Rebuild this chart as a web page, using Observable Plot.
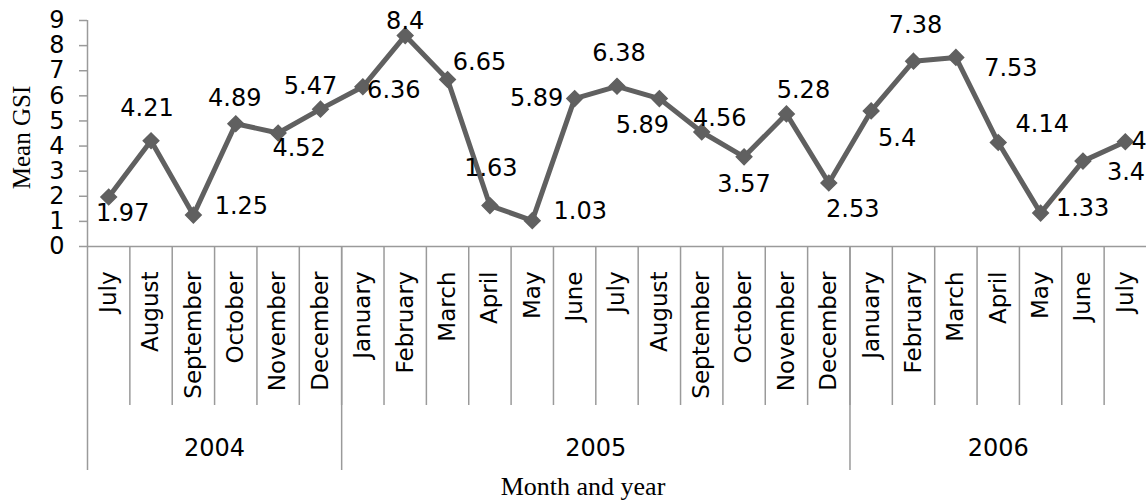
<!DOCTYPE html>
<html>
<head>
<meta charset="utf-8">
<script src="https://cdn.jsdelivr.net/npm/d3@7"></script>
<script src="https://cdn.jsdelivr.net/npm/@observablehq/plot@0.6"></script>
<style>
  html, body { margin: 0; padding: 0; background: white; overflow: hidden; }
  svg { overflow: hidden; display: block; }
</style>
</head>
<body>
<div id="chart"></div>
<script>
// ---- data ----
const months = ["July","August","September","October","November","December",
  "January","February","March","April","May","June","July","August","September","October","November","December",
  "January","February","March","April","May","June","July"];
const years = ["2004","2005","2006"];
const yearCounts = [6, 12, 7];
const gsi = [1.97, 4.21, 1.25, 4.89, 4.52, 5.47, 6.36, 8.4, 6.65, 1.63, 1.03, 5.89,
  6.38, 5.89, 4.56, 3.57, 5.28, 2.53, 5.4, 7.38, 7.53, 4.14, 1.33, 3.4, 4.17];
const yTicks = [0,1,2,3,4,5,6,7,8,9];
// label placement (pixel offsets from each point)
const labelOffset = [[14,16],[-4,-32],[48,-9],[-1,-25],[21,15],[-10,-23],[31,4],[0,-14],[32,-17],[1,-37],
  [48,-9],[-38,0],[2,-33],[-17,27],[18,-14],[0,27],[17,-24],[24,26],[26,27],[2,-36],[55,11],[44,-18],
  [42,-5],[43,11],[33,0]];

// ---- derived tables ----
const points = gsi.map((v, i) => ({i: i + 0.5, v, month: months[i], dx: labelOffset[i][0], dy: labelOffset[i][1]}));
const monthBounds = d3.range(1, months.length);
const yearStarts = d3.cumsum([0, ...yearCounts]).slice(0, years.length);
const yearTable = years.map((y, k) => ({y, c: yearStarts[k] + yearCounts[k] / 2}));

const axisGray = "#9a9a9a";
const lineGray = "#606060";

const chart = Plot.plot({
  width: 1146,
  height: 502,
  marginLeft: 87,
  marginRight: 0,
  marginTop: 20,
  marginBottom: 256,
  x: {type: "linear", domain: [0, months.length], axis: null},
  y: {type: "linear", domain: [0, 9], axis: null},
  style: {fontFamily: "DejaVu Sans, Verdana, sans-serif", fontSize: "24px", color: "black", background: "white"},
  marks: [
    // y axis
    Plot.axisY({ticks: yTicks, tickSize: 8, tickPadding: 15, stroke: axisGray, strokeWidth: 1.5, strokeOpacity: 1,
      fill: "black", fontSize: 24, tickFormat: d3.format("d"), label: null}),
    Plot.ruleX([0], {stroke: axisGray, strokeWidth: 1.5}),
    Plot.ruleY([0], {stroke: axisGray, strokeWidth: 1.5}),
    // month separators
    Plot.axisX(monthBounds, {anchor: "bottom", tickSize: 159, stroke: axisGray, strokeWidth: 1.5, strokeOpacity: 1,
      tickFormat: () => "", label: null}),
    // year separators
    Plot.axisX(yearStarts, {anchor: "bottom", tickSize: 224, stroke: axisGray, strokeWidth: 1.5, strokeOpacity: 1,
      tickFormat: () => "", label: null}),
    // month labels
    Plot.text(points, {x: "i", frameAnchor: "bottom", text: "month", rotate: -90, textAnchor: "end",
      lineAnchor: "middle", dy: 25, fontSize: 23, fill: "black"}),
    // year labels
    Plot.text(yearTable, {x: "c", frameAnchor: "bottom", text: "y", lineAnchor: "middle", dy: 202, fontSize: 24, fill: "black"}),
    // axis titles
    Plot.text(["Mean GSI"], {frameAnchor: "left", rotate: -90, textAnchor: "middle", lineAnchor: "middle", dx: -66, dy: 4,
      fontFamily: "Liberation Serif, Times New Roman, serif", fontSize: 25, fill: "black"}),
    Plot.text(["Month and year"], {frameAnchor: "bottom", textAnchor: "middle", lineAnchor: "middle", dx: -34, dy: 240,
      fontFamily: "Liberation Serif, Times New Roman, serif", fontSize: 26, fill: "black"}),
    // series
    Plot.line(points, {x: "i", y: "v", stroke: lineGray, strokeWidth: 5, strokeLinejoin: "miter"}),
    Plot.dot(points, {x: "i", y: "v", symbol: "diamond2", r: 7, fill: lineGray, stroke: lineGray, strokeWidth: 1.5}),
    // data labels
    Plot.text(points, {x: "i", y: "v", text: d => String(d.v), fontSize: 24, fill: "black",
      render: (index, scales, values, dims, ctx, next) => {
        const g = next(index, scales, values, dims, ctx);
        d3.select(g).selectAll("text").each(function(_, j) {
          const p = points[index[j]];
          const t = this.getAttribute("transform");
          this.setAttribute("transform", `translate(${p.dx},${p.dy}) ` + t);
        });
        return g;
      }})
  ]
});
document.getElementById("chart").appendChild(chart);
</script>
</body>
</html>
